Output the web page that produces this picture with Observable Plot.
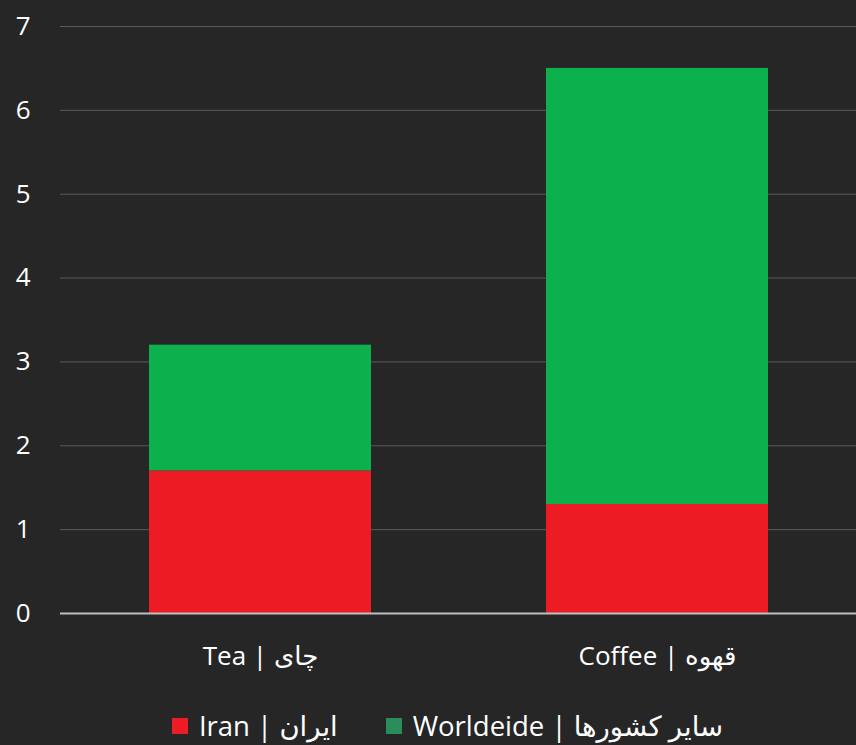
<!DOCTYPE html>
<html>
<head>
<meta charset="utf-8">
<script src="https://cdn.jsdelivr.net/npm/d3@7"></script>
<script src="https://cdn.jsdelivr.net/npm/@observablehq/plot@0.6"></script>
<style>
  html, body { margin: 0; padding: 0; background: #262626; }
  body { width: 856px; height: 745px; overflow: hidden; font-family: "Open Sans", "DejaVu Sans", sans-serif; }
  #legend { display: flex; justify-content: center; gap: 48px; color: #ffffff; font-size: 27.5px; margin-top: 21px; margin-left: 39px; line-height: 30px; }
  #legend .item { display: flex; align-items: center; gap: 11px; }
  #legend .sw { width: 16px; height: 16px; display: inline-block; }
</style>
</head>
<body>
<div id="chart"></div>
<div id="legend"></div>
<script>
const categories = ["Tea | چای", "Coffee | قهوه"];
const seriesNames = ["Iran | ایران", "Worldeide | سایر کشورها"];
const iranValues = [1.7, 1.3];
const worldValues = [1.5, 5.2];
const barColors = ["#ED1C24", "#0CB04C"];
const legendColors = ["#ED1C24", "#2A8C5A"];
const yTicks = [0, 1, 2, 3, 4, 5, 6, 7];

const data = [];
categories.forEach((c, i) => {
  data.push({category: c, series: seriesNames[0], value: iranValues[i]});
  data.push({category: c, series: seriesNames[1], value: worldValues[i]});
});

const plot = Plot.plot({
  width: 856,
  height: 690,
  marginLeft: 60,
  marginRight: 0,
  marginTop: 26,
  marginBottom: 77,
  style: { background: "#262626", color: "#ffffff", fontFamily: "'Open Sans', 'DejaVu Sans', sans-serif", fontSize: "26px" },
  x: { domain: categories, paddingInner: 0.442, paddingOuter: 0.223, label: null },
  y: { domain: [0, 7], label: null },
  color: { domain: seriesNames, range: barColors },
  marks: [
    Plot.gridY(yTicks, { stroke: "#5a5a5a", strokeOpacity: 1, strokeWidth: 1 }),
    Plot.barY(data, { x: "category", y: "value", fill: "series", order: seriesNames }),
    Plot.ruleY([0], { stroke: "#bfbfbf", strokeWidth: 2 }),
    Plot.axisY(yTicks, { tickSize: 0, tickPadding: 30, fill: "#ffffff", fontSize: 26, tickFormat: d => String(d), label: null }),
    Plot.axisX({ tickSize: 0, tickPadding: 33, fill: "#ffffff", fontSize: 26, label: null })
  ]
});
document.getElementById("chart").appendChild(plot);

const legend = document.getElementById("legend");
seriesNames.forEach((s, i) => {
  const item = document.createElement("div");
  item.className = "item";
  const sw = document.createElement("span");
  sw.className = "sw";
  sw.style.background = legendColors[i];
  const t = document.createElement("span");
  t.textContent = s;
  item.appendChild(sw);
  item.appendChild(t);
  legend.appendChild(item);
});
</script>
</body>
</html>
